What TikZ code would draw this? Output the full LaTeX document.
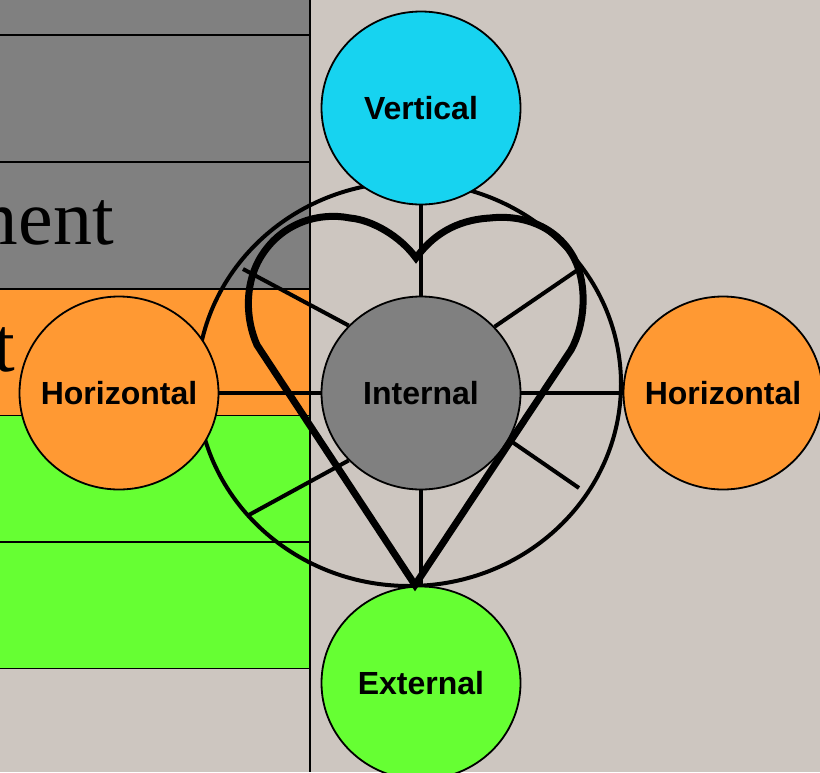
\documentclass[tikz,border=0pt]{standalone}
\usepackage{fontspec}
\setmainfont{Liberation Serif}
\setsansfont{Liberation Sans}
\usetikzlibrary{shapes.geometric}
\definecolor{canvas}{RGB}{205,198,192}
\definecolor{stripegray}{RGB}{128,128,128}
\definecolor{sphereorange}{RGB}{255,153,51}
\definecolor{spheregreen}{RGB}{102,255,51}
\definecolor{spherecyan}{RGB}{23,211,240}

\begin{document}
\begin{tikzpicture}[x=1pt,y=-1pt,
    sphere/.style={ellipse, draw=black, line width=1.8pt, minimum width=199pt,
      minimum height=193pt, inner xsep=-40pt, inner ysep=0pt,
      font=\sffamily\bfseries\fontsize{32}{36}\selectfont},
    spoke/.style={line width=4pt},
    band/.style={draw=black, line width=1.8pt},
    bigword/.style={anchor=base east, inner sep=0pt, font=\fontsize{78}{90}\selectfont}
  ]
  \path[use as bounding box] (0,0) rectangle (820,772);
  \clip (0,0) rectangle (820,772);
  \fill[canvas] (0,0) rectangle (820,772);
  % Bands
  \foreach \y/\bandcol in {-92/stripegray,35/stripegray,162/stripegray,289/sphereorange,415.5/spheregreen,542/spheregreen}
    \filldraw[band, fill=\bandcol] (-10,\y) rectangle (310,{\y+126.5});
  \draw[line width=1.8pt] (310,0) -- (310,772);
  \node[bigword] (wordtop) at (114,244) {ment};
  \node[bigword] (wordmid) at (15,371) {t};
  %
  % Ring
  \draw[line width=4pt] (409,384) ellipse [x radius=212pt, y radius=202pt];
  %
  % Spheres
  \node[sphere, fill=spherecyan] (vert) at (421,108) {Vertical};
  \node[sphere, fill=stripegray] (int) at (421,393) {Internal};
  \node[sphere, fill=sphereorange] (horl) at (119,393) {Horizontal};
  \node[sphere, fill=sphereorange] (horr) at (723,393) {Horizontal};
  \node[sphere, fill=spheregreen] (ext) at (421,683) {External};
  %
  % Spokes
  \coordinate (ul) at (243,269);
  \coordinate (ur) at (579,269);
  \coordinate (ll) at (247,516);
  \coordinate (lr) at (579,488);
  \draw[spoke] (vert) -- (int);
  \draw[spoke] (int) -- (ext);
  \draw[spoke] (horl) -- (int);
  \draw[spoke] (int) -- (horr);
  \draw[spoke] (int.137) -- (ul);
  \draw[spoke] (int.42) -- (ur);
  \draw[spoke] (int.223) -- (ll);
  \draw[spoke] (int.-28) -- (lr);
  %
  % Heart
  \draw[line width=7pt] (415,585) -- (257,345)
    .. controls (245,318) and (244,280) .. (264,252)
    .. controls (285,222) and (320,212) .. (350,218)
    .. controls (372,220) and (400,236) .. (416,258)
    .. controls (432,236) and (455,220) .. (490,218)
    .. controls (525,214) and (558,228) .. (574,258)
    .. controls (588,285) and (585,325) .. (571,350)
    -- cycle;
\end{tikzpicture}
\end{document}
